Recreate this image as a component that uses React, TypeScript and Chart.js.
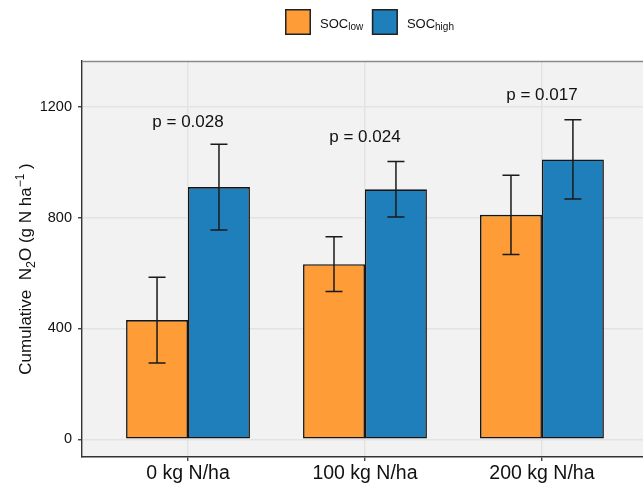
import React, { useEffect, useRef } from "react";
import { Chart, registerables } from "chart.js";

Chart.register(...registerables);

const FONT = "'Liberation Sans', Arial, Helvetica, sans-serif";

const categories = ["0 kg N/ha", "100 kg N/ha", "200 kg N/ha"];
const socLow = [430, 632, 810];
const socLowErr = [155, 99, 143];
const socHigh = [910, 902, 1010];
const socHighErr = [155, 100, 143];
const pLabels = ["p = 0.028", "p = 0.024", "p = 0.017"];
const pLabelY = [1128, 1072, 1225];
const yTicks = [0, 400, 800, 1200];
const seriesMain = ["SOC", "SOC"];
const seriesSub = ["low", "high"];
const seriesColors = ["#FE9D37", "#1F7FBA"];
const errors = [socLowErr, socHighErr];

const customPlugin = {
  id: "custom",
  beforeDraw(chart: any) {
    const { ctx, chartArea } = chart;
    ctx.save();
    ctx.fillStyle = "#F2F2F2";
    ctx.fillRect(chartArea.left, chartArea.top, chartArea.right - chartArea.left, chartArea.bottom - chartArea.top);
    ctx.restore();
  },
  afterDatasetsDraw(chart: any) {
    const { ctx } = chart;
    const yScale = chart.scales.y;
    const xScale = chart.scales.x;
    ctx.save();
    ctx.strokeStyle = "#1a1a1a";
    ctx.lineWidth = 1.5;
    chart.data.datasets.forEach((ds: any, di: number) => {
      const meta = chart.getDatasetMeta(di);
      meta.data.forEach((el: any, i: number) => {
        const v = ds.data[i].y;
        const e = errors[di][i];
        const yt = yScale.getPixelForValue(v + e);
        const yb = yScale.getPixelForValue(v - e);
        const x = el.x;
        const hw = 8.5;
        ctx.beginPath();
        ctx.moveTo(x, yt);
        ctx.lineTo(x, yb);
        ctx.moveTo(x - hw, yt);
        ctx.lineTo(x + hw, yt);
        ctx.moveTo(x - hw, yb);
        ctx.lineTo(x + hw, yb);
        ctx.stroke();
      });
    });
    ctx.fillStyle = "#111";
    ctx.font = `17px ${FONT}`;
    ctx.textAlign = "center";
    ctx.textBaseline = "alphabetic";
    pLabels.forEach((t, i) => {
      ctx.fillText(t, xScale.getPixelForValue(i), yScale.getPixelForValue(pLabelY[i]));
    });
    ctx.restore();
  },
  afterDraw(chart: any) {
    const { ctx, chartArea } = chart;
    ctx.save();
    ctx.strokeStyle = "#8a8a8a";
    ctx.lineWidth = 1.3;
    ctx.beginPath();
    ctx.moveTo(chartArea.left, chartArea.top + 0.5);
    ctx.lineTo(chartArea.right, chartArea.top + 0.5);
    ctx.stroke();

    let x = 285;
    const boxY = 9;
    const box = 26;
    const base = 27.7;
    seriesMain.forEach((m, i) => {
      ctx.fillStyle = seriesColors[i];
      ctx.fillRect(x, boxY, box, box);
      ctx.strokeStyle = "#222";
      ctx.lineWidth = 1.5;
      ctx.strokeRect(x + 0.75, boxY + 0.75, box - 1.5, box - 1.5);
      x += box + 9;
      ctx.fillStyle = "#111";
      ctx.textAlign = "left";
      ctx.textBaseline = "alphabetic";
      ctx.font = `13px ${FONT}`;
      ctx.fillText(m, x, base);
      x += ctx.measureText(m).width;
      ctx.font = `10px ${FONT}`;
      ctx.fillText(seriesSub[i], x, base + 2.5);
      x += ctx.measureText(seriesSub[i]).width + 8.7;
    });

    const parts = [
      { t: "Cumulative  N", s: 17, dy: 0 },
      { t: "2", s: 12.5, dy: 3.5 },
      { t: "O (g N ha", s: 17, dy: 0 },
      { t: "\u22121", s: 12, dy: -7.5 },
      { t: " )", s: 17, dy: 0 },
    ];
    let total = 0;
    parts.forEach((p) => {
      ctx.font = `${p.s}px ${FONT}`;
      total += ctx.measureText(p.t).width;
    });
    ctx.translate(31, 269);
    ctx.rotate(-Math.PI / 2);
    ctx.fillStyle = "#111";
    ctx.textAlign = "left";
    ctx.textBaseline = "alphabetic";
    let lx = -total / 2;
    parts.forEach((p) => {
      ctx.font = `${p.s}px ${FONT}`;
      ctx.fillText(p.t, lx, p.dy);
      lx += ctx.measureText(p.t).width;
    });
    ctx.restore();
  },
};

export default function App() {
  const ref = useRef<HTMLCanvasElement | null>(null);
  useEffect(() => {
    if (!ref.current) return;
    Chart.defaults.font.family = FONT;
    const chart = new Chart(ref.current, {
      type: "bar",
      data: {
        datasets: [
          {
            label: "SOC low",
            data: socLow.map((v, i) => ({ x: i, y: v })),
            backgroundColor: seriesColors[0],
            borderColor: "#151515",
            borderWidth: 1.6,
            borderSkipped: false,
          },
          {
            label: "SOC high",
            data: socHigh.map((v, i) => ({ x: i, y: v })),
            backgroundColor: seriesColors[1],
            borderColor: "#151515",
            borderWidth: 1.6,
            borderSkipped: false,
          },
        ],
      },
      options: {
        animation: false,
        responsive: false,
        events: [],
        layout: { padding: { top: 61, left: 0, right: 0, bottom: 0 } },
        datasets: { bar: { categoryPercentage: 0.7, barPercentage: 1 } },
        plugins: { legend: { display: false }, tooltip: { enabled: false } },
        scales: {
          x: {
            type: "linear",
            offset: false,
            min: -0.599,
            max: 2.571,
            afterBuildTicks: (scale: any) => {
              scale.ticks = categories.map((_, i) => ({ value: i }));
            },
            afterFit: (scale: any) => {
              scale.height = 28;
            },
            ticks: {
              autoSkip: false,
              maxRotation: 0,
              padding: 1,
              color: "#111",
              font: { size: 19.5, family: FONT },
              callback: (v: any) => categories[Math.round(Number(v))] ?? "",
            },
            grid: {
              offset: false,
              color: "#E3E3E3",
              lineWidth: 1.5,
              tickColor: "#333",
              tickWidth: 1.3,
              tickLength: 4,
            },
            border: { display: true, color: "#333", width: 1.4 },
          },
          y: {
            type: "linear",
            min: -64,
            max: 1365,
            afterBuildTicks: (scale: any) => {
              scale.ticks = yTicks.map((v) => ({ value: v }));
            },
            afterFit: (scale: any) => {
              scale.width = 82;
            },
            ticks: {
              padding: 6,
              color: "#111",
              font: { size: 14.5, family: FONT },
              callback: (v: any) => String(v),
            },
            grid: {
              color: "#E3E3E3",
              lineWidth: 1.5,
              tickColor: "#333",
              tickWidth: 1.3,
              tickLength: 4,
            },
            border: { display: true, color: "#333", width: 1.4 },
          },
        },
      },
      plugins: [customPlugin],
    } as any);
    return () => chart.destroy();
  }, []);
  return (
    <div style={{ position: "fixed", left: 0, top: 0, width: 643, height: 485, background: "#fff" }}>
      <canvas ref={ref} width={643} height={485} style={{ display: "block", width: 643, height: 485 }} />
    </div>
  );
}
